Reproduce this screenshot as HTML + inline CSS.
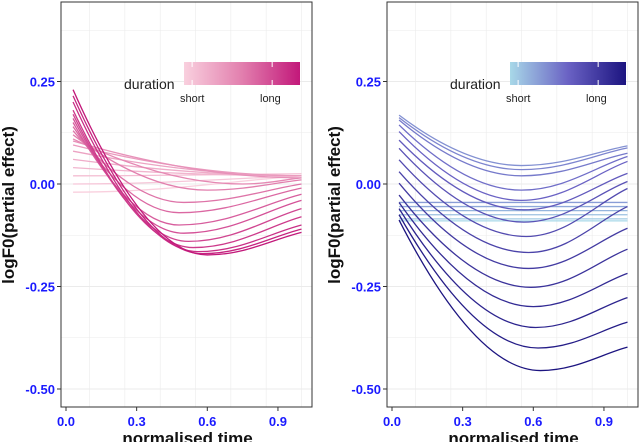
<!DOCTYPE html>
<html><head><meta charset="utf-8"><style>
body{margin:0;background:#fff;width:640px;height:442px;overflow:hidden}
svg text{font-family:"Liberation Sans",sans-serif}
</style></head><body>
<svg id="chart" width="640" height="442" viewBox="0 0 640 442" xmlns="http://www.w3.org/2000/svg"></svg>
<script>
// ---- Left panel data (short -> long duration)
const leftStarts = [-0.02,0.0,0.02,0.04,0.06,0.08,0.095,0.105,0.11,0.12,0.13,0.14,0.15,0.16,0.17,0.18,0.20,0.215,0.23];
const leftMins   = [-0.02,0.0,0.02,0.02,0.02,0.02,0.02,0.015,0.0,-0.015,-0.045,-0.07,-0.10,-0.12,-0.14,-0.155,-0.165,-0.17,-0.173];
const leftEnds   = [0.02,0.02,0.025,0.02,0.02,0.02,0.02,0.015,0.015,0.01,0.0,-0.01,-0.025,-0.04,-0.06,-0.08,-0.10,-0.11,-0.118];
const leftMinX   = [0.03,0.03,0.03,1,1,1,1,1,0.75,0.6,0.5,0.48,0.48,0.5,0.52,0.54,0.56,0.58,0.6];
// ---- Right panel data (short -> long duration)
const rightStarts = [-0.09,-0.085,-0.075,-0.065,-0.055,-0.045,0.168,0.162,0.156,0.144,0.128,0.107,0.087,0.059,0.030,0.002,-0.027,-0.045,-0.06,-0.075,-0.088];
const rightMins   = [-0.09,-0.085,-0.075,-0.065,-0.055,-0.045,0.045,0.035,0.02,-0.015,-0.04,-0.063,-0.093,-0.128,-0.167,-0.206,-0.252,-0.299,-0.35,-0.40,-0.455];
const rightEnds   = [-0.09,-0.085,-0.08,-0.07,-0.06,-0.05,0.093,0.088,0.075,0.067,0.055,0.026,0.006,-0.011,-0.055,-0.108,-0.159,-0.218,-0.277,-0.337,-0.398];
const rightMinX   = [1,1,1,1,1,1,0.55,0.55,0.55,0.55,0.55,0.56,0.56,0.57,0.58,0.58,0.59,0.6,0.61,0.62,0.63];
const xTicks = [0.0,0.3,0.6,0.9];
const xTickLabels = ["0.0","0.3","0.6","0.9"];
const yTicks = [0.25,0.0,-0.25,-0.5];
const yTickLabels = ["0.25","0.00","-0.25","-0.50"];

const NS="http://www.w3.org/2000/svg";
const svg=document.getElementById('chart');
function mk(tag,attrs,parent){const e=document.createElementNS(NS,tag);for(const k in attrs)e.setAttribute(k,attrs[k]);(parent||svg).appendChild(e);return e;}
function lerp2(a,b,t){const p=c=>[1,3,5].map(i=>parseInt(c.substr(i,2),16));const A=p(a),B=p(b);return 'rgb('+A.map((v,i)=>Math.round(v+(B[i]-v)*t)).join(',')+')';}
function ramp(cols,t){if(t<=0.5)return lerp2(cols[0],cols[1],t*2);return lerp2(cols[1],cols[2],(t-0.5)*2);}

function panel(name,px0,px1,starts,mins,ends,minXs,cols){
  const top=2,bot=407;
  const xs=v=>px0+5+(v)*(235.5);
  const ys=v=>184-v*410;
  const g=mk('g',{});
  
  
  mk('rect',{x:px0,y:top,width:px1-px0,height:bot-top,fill:'#fff'},g);
  for(let v=-0.05;v<=1.05;v+=0.15){const x=xs(v);if(x<px0||x>px1)continue;
    const l=mk('line',{x1:x,x2:x,y1:top,y2:bot,stroke:'#ebebeb','stroke-width':Math.abs((v/0.3)-Math.round(v/0.3))<0.01?1.1:0.6},g);
    }
  for(let v=-0.625;v<=0.5;v+=0.125){const y=ys(v);if(y<top||y>bot)continue;
    const l=mk('line',{x1:px0,x2:px1,y1:y,y2:y,stroke:'#ebebeb','stroke-width':Math.abs((v/0.25)-Math.round(v/0.25))<0.01?1.1:0.6},g);
    }
  const n=starts.length;
  for(let i=0;i<n;i++){
    const s=starts[i],m=mins[i],e=ends[i],mx=minXs[i],x0=0.03,x1=1.0;
    let d='M'+xs(x0)+','+ys(s);
    if(mx>x0+0.001){const dx=mx-x0;
      d+=' C'+xs(x0+0.3*dx)+','+ys(s-0.55*(s-m))+' '+xs(mx-0.35*dx)+','+ys(m)+' '+xs(mx)+','+ys(m);}
    if(mx<x1-0.001){const dx=x1-mx;
      d+=' C'+xs(mx+0.4*dx)+','+ys(m)+' '+xs(x1-0.3*dx)+','+ys(e-0.3*(e-m))+' '+xs(x1)+','+ys(e);}
    const p=mk('path',{d:d,fill:'none',stroke:ramp(cols,i/(n-1)),'stroke-width':1.3},g);
    
    
  }
  mk('rect',{x:px0,y:top,width:px1-px0,height:bot-top,fill:'none',stroke:'#333','stroke-width':1},g);
  xTicks.forEach((v,i)=>{const x=xs(v);mk('line',{x1:x,x2:x,y1:bot,y2:bot+4,stroke:'#333'},g);
    const t=mk('text',{x:x,y:bot+19,'text-anchor':'middle','font-size':13,'font-weight':'bold',fill:'#1a1aff'},g);t.textContent=xTickLabels[i];
    });
  yTicks.forEach((v,i)=>{const y=ys(v);mk('line',{x1:px0-4,x2:px0,y1:y,y2:y,stroke:'#333'},g);
    const t=mk('text',{x:px0-6,y:y+5,'text-anchor':'end','font-size':13,'font-weight':'bold',fill:'#1a1aff'},g);t.textContent=yTickLabels[i];
    });
  const yt=mk('text',{x:0,y:0,transform:'translate('+(px0-47)+',205) rotate(-90)','text-anchor':'middle','font-size':17,'font-weight':'bold',fill:'#111'},g);
  yt.textContent='logF0(partial effect)';
  const xt=mk('text',{x:(px0+px1)/2+1,y:444,'text-anchor':'middle','font-size':17,'font-weight':'bold',fill:'#111'},g);
  xt.textContent='normalised time';
  const lg=mk('g',{},g);
  const gid=name+'grad';const defs=mk('defs',{},lg);const gr=mk('linearGradient',{id:gid,x1:0,x2:1,y1:0,y2:0},defs);
  mk('stop',{offset:0,'stop-color':cols[0]},gr);mk('stop',{offset:0.5,'stop-color':cols[1]},gr);mk('stop',{offset:1,'stop-color':cols[2]},gr);
  const bx=px0+123,bw=116;
  mk('rect',{x:bx,y:62,width:bw,height:23,fill:'url(#'+gid+')'},lg);
  [0.07,0.76].forEach(f=>{mk('line',{x1:bx+f*bw,x2:bx+f*bw,y1:62,y2:67,stroke:'#fff','stroke-width':1},lg);mk('line',{x1:bx+f*bw,x2:bx+f*bw,y1:80,y2:85,stroke:'#fff','stroke-width':1},lg);});
  const dt=mk('text',{x:px0+63,y:89,'font-size':14,fill:'#222'},lg);dt.textContent='duration';
  const st=mk('text',{x:bx-4,y:102,'font-size':11,fill:'#222'},lg);st.textContent='short';
  const lt=mk('text',{x:bx+76,y:102,'font-size':11,fill:'#222'},lg);lt.textContent='long';
}
panel('left',61,312,leftStarts,leftMins,leftEnds,leftMinX,['#f9d0de','#e27fae','#c2187a']);
panel('right',387,638,rightStarts,rightMins,rightEnds,rightMinX,['#a8d8e8','#6a62c4','#1c1480']);
</script>
</body></html>
